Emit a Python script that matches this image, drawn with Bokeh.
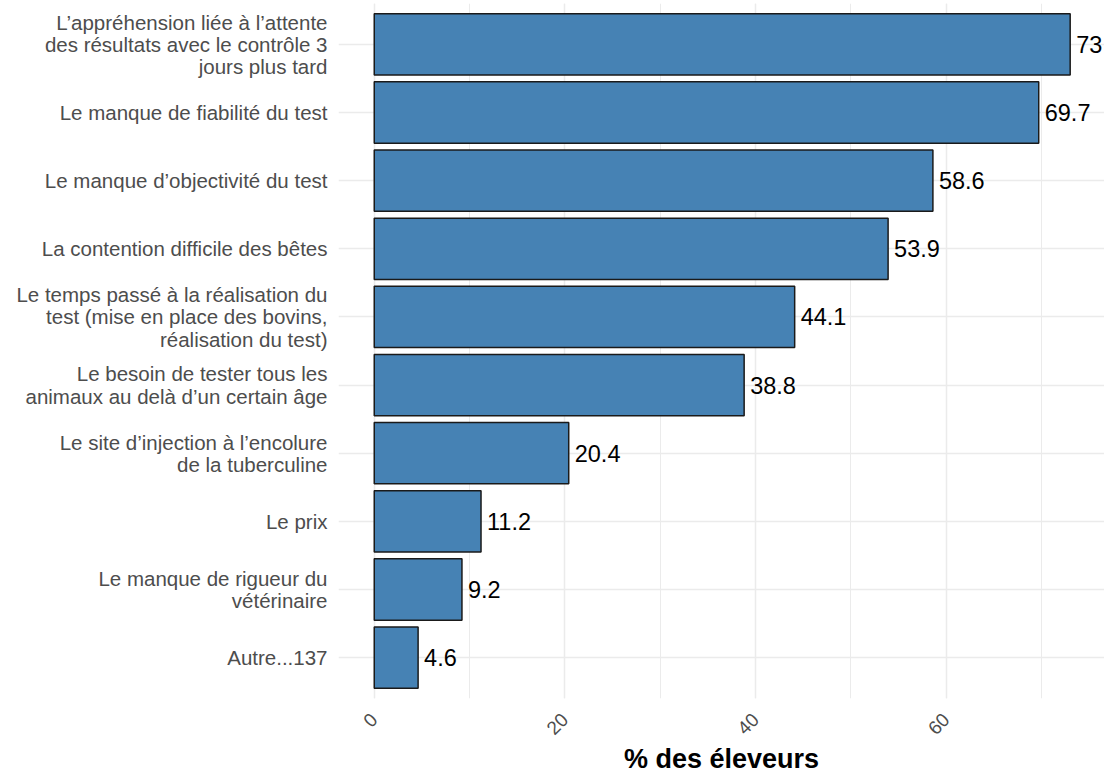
import math
from bokeh.plotting import figure
from bokeh.models import ColumnDataSource, Range1d, FixedTicker, SingleIntervalTicker
from bokeh.core.properties import value
from bokeh.embed import file_html
from bokeh.resources import INLINE

categories = [
    "L’appréhension liée à l’attente\ndes résultats avec le contrôle 3\njours plus tard",
    "Le manque de fiabilité du test",
    "Le manque d’objectivité du test",
    "La contention difficile des bêtes",
    "Le temps passé à la réalisation du\ntest (mise en place des bovins,\nréalisation du test)",
    "Le besoin de tester tous les\nanimaux au delà d’un certain âge",
    "Le site d’injection à l’encolure\nde la tuberculine",
    "Le prix",
    "Le manque de rigueur du\nvétérinaire",
    "Autre...137",
]
values = [73, 69.7, 58.6, 53.9, 44.1, 38.8, 20.4, 11.2, 9.2, 4.6]
x_title = "% des éleveurs"

FONT = "Liberation Sans"
n = len(categories)
positions = list(range(n, 0, -1))
labels = [f"{v:g}" for v in values]
src = ColumnDataSource(dict(y=positions, v=values, lab=labels))

p = figure(width=1104, height=776, output_backend="svg", toolbar_location=None,
           x_range=Range1d(-3.75, 76.6), y_range=Range1d(0.4, 10.6),
           min_border_left=338, min_border_right=0, min_border_top=3,
           min_border_bottom=76)

p.hbar(y="y", right="v", left=0, height=0.9, source=src,
       fill_color="#4682B4", line_color="#1a1a1a", line_width=1.5)
p.text(x="v", y="y", text="lab", source=src, x_offset=6,
       text_align="left", text_baseline="middle",
       text_font=value(FONT), text_font_size="23.5px", text_color="black")

p.xaxis.ticker = SingleIntervalTicker(interval=20, num_minor_ticks=2)
p.yaxis.ticker = FixedTicker(ticks=positions)
p.yaxis.major_label_overrides = {pos: cat for pos, cat in zip(positions, categories)}

for ax in p.axis:
    ax.axis_line_color = None
    ax.major_tick_line_color = None
    ax.minor_tick_line_color = None
    ax.major_label_text_font = FONT
    ax.major_label_text_color = "#4D4D4D"

p.yaxis.major_label_text_font_size = "20.5px"
p.yaxis.major_label_text_line_height = 0.97
p.yaxis.major_label_standoff = 5
p.xaxis.major_label_text_font_size = "19px"
p.xaxis.major_label_orientation = math.pi / 4
p.xaxis.major_label_standoff = 12
p.xaxis.axis_label = x_title
p.xaxis.axis_label_text_font = FONT
p.xaxis.axis_label_text_font_style = "bold"
p.xaxis.axis_label_text_font_size = "27px"
p.xaxis.axis_label_text_color = "black"
p.xaxis.axis_label_standoff = 0

p.xgrid.grid_line_color = "#EBEBEB"
p.xgrid.grid_line_width = 1.5
p.xgrid.minor_grid_line_color = "#EBEBEB"
p.xgrid.minor_grid_line_width = 1
p.ygrid.grid_line_color = "#EBEBEB"
p.ygrid.grid_line_width = 1.5
p.outline_line_color = None
p.background_fill_color = "white"
p.border_fill_color = "white"

open("out.html", "w").write(file_html(p, INLINE))
